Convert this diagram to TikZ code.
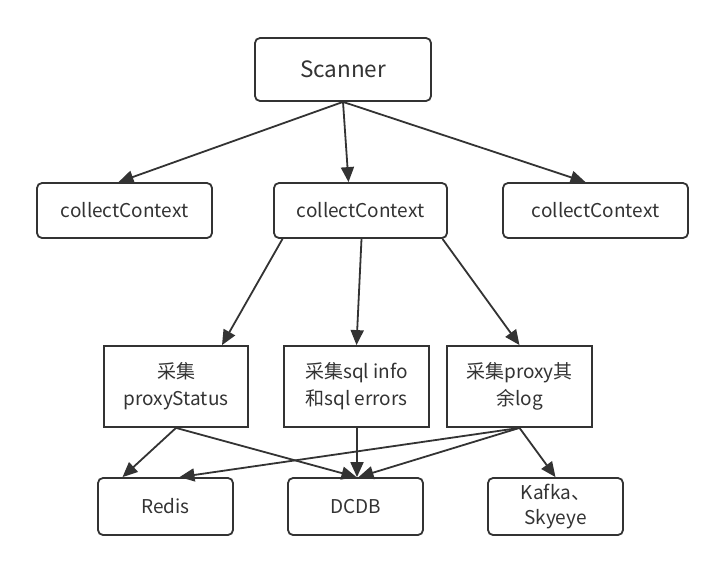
\documentclass[tikz,border=0pt]{standalone}
\usepackage{fontspec}
\setmainfont{Noto Sans CJK SC}
\usetikzlibrary{arrows.meta}
\definecolor{ink}{HTML}{333333}
\tikzset{
  rbox/.style={draw=ink, line width=1.8pt, rounded corners=5pt, align=center, text=ink, font=\fontsize{19}{23}\selectfont, inner sep=0pt},
  sbox/.style={draw=ink, line width=1.8pt, align=center, text=ink, font=\fontsize{19}{27}\selectfont, inner sep=0pt},
  arr/.style={draw=ink, line width=1.8pt, -{Triangle[length=15pt,width=13pt]}}
}
\begin{document}
\begin{tikzpicture}[x=1pt,y=-1pt]
\useasboundingbox[fill=white] (0,0) rectangle (712,573);
\node[rbox, minimum width=176pt, minimum height=63pt, font=\fontsize{22.5}{26}\selectfont] (scan) at (343,69.5) {Scanner};
\node[rbox, minimum width=175pt, minimum height=55pt] (cc1) at (124.5,210.5) {collectContext};
\node[rbox, minimum width=173pt, minimum height=55pt] (cc2) at (360.5,210.5) {collectContext};
\node[rbox, minimum width=185pt, minimum height=55pt] (cc3) at (595.5,210.5) {collectContext};
\node[sbox, minimum width=144pt, minimum height=81pt] (p1) at (176,386.5) {采集\\proxyStatus};
\node[sbox, minimum width=145pt, minimum height=81pt] (p2) at (356.5,386.5) {采集sql info\\和sql errors};
\node[sbox, minimum width=145pt, minimum height=81pt] (p3) at (519.5,386.5) {采集proxy其\\余log};
\node[rbox, minimum width=135pt, minimum height=57pt] (redis) at (165.5,506.5) {Redis};
\node[rbox, minimum width=135pt, minimum height=57pt] (dcdb) at (355.5,506.5) {DCDB};
\node[rbox, minimum width=135pt, minimum height=57pt, font=\fontsize{19}{25}\selectfont] (kafka) at (555.5,506.5) {Kafka、\\Skyeye};

\draw[arr] (scan.south) -- ([xshift=-6pt]cc1.north);
\draw[arr] (scan.south) -- ([xshift=-12pt]cc2.north);
\draw[arr] (scan.south) -- ([xshift=-10pt]cc3.north);

\draw[arr] ([xshift=-78pt]cc2.south) -- ([xshift=46pt]p1.north);
\draw[arr] ([xshift=1pt]cc2.south) -- (p2.north);
\draw[arr] ([xshift=82pt]cc2.south) -- (p3.north);

\draw[arr] (p1.south) -- ([xshift=-43pt]redis.north);
\draw[arr] (p1.south) -- ([xshift=1pt]dcdb.north);
\draw[arr] ([xshift=0.5pt]p2.south) -- ([xshift=1.5pt]dcdb.north);
\draw[arr] (p3.south) -- ([xshift=14pt]redis.north);
\draw[arr] (p3.south) -- ([xshift=3pt]dcdb.north);
\draw[arr] (p3.south) -- (kafka.north);
\end{tikzpicture}
\end{document}
